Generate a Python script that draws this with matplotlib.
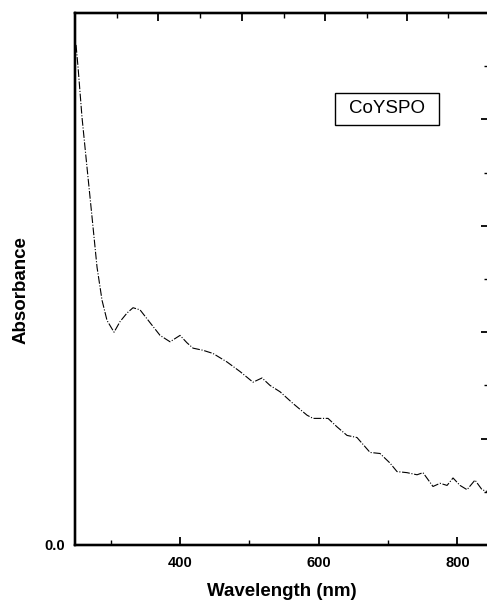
import numpy as np
import matplotlib
matplotlib.use('Agg')
import matplotlib.pyplot as plt
from matplotlib.patches import Rectangle

plt.rcParams['font.family'] = ['Liberation Sans', 'DejaVu Sans']

# absorbance spectrum (arbitrary units, 0 at bottom axis)
wavelength = [250, 252.9, 258.6, 265.8, 273.1, 280.3, 287.5, 294.7, 304.8, 313.5,
              323.5, 332.2, 342.3, 356.7, 371.2, 385.6, 400.0, 410.1, 418.8, 433.2,
              447.6, 467.8, 486.6, 505.3, 518.3, 529.8, 544.3, 563.0, 583.2, 591.9,
              613.5, 626.5, 640.9, 655.3, 674.1, 688.5, 702.9, 713.0, 727.4, 741.9,
              750.5, 764.9, 775.1, 785.2, 793.8, 803.9, 814.0, 825.5, 835.6, 844.2]
absorbance = [4.70, 4.49, 4.02, 3.55, 3.08, 2.61, 2.30, 2.11, 2.00, 2.10,
              2.18, 2.23, 2.21, 2.09, 1.97, 1.91, 1.97, 1.90, 1.85, 1.83,
              1.80, 1.72, 1.63, 1.53, 1.57, 1.50, 1.44, 1.33, 1.22, 1.19,
              1.19, 1.11, 1.03, 1.01, 0.87, 0.86, 0.77, 0.69, 0.68, 0.66,
              0.68, 0.55, 0.58, 0.56, 0.63, 0.56, 0.52, 0.61, 0.52, 0.50]

sample = 'CoYSPO'

fig = plt.figure(figsize=(4.87, 6.07), dpi=100)
ax = fig.add_axes([75 / 487, 62 / 607, 414 / 487, 532 / 607])

ax.plot(wavelength, absorbance, color='black', lw=0.8,
        linestyle=(0, (7, 1.5, 1, 1.5)))

ax.set_xlim(248.5, 845.7)
ax.set_ylim(0, 5)

for side in ['left', 'bottom', 'top', 'right']:
    ax.spines[side].set_linewidth(1.6)

# bottom axis
ax.set_xticks([400, 600, 800])
ax.set_xticks([300, 500, 700], minor=True)
ax.set_xticklabels(['400', '600', '800'], fontweight='bold', fontsize=10.5)
ax.tick_params(axis='x', which='major', direction='in', length=6, width=1.3,
               top=False, pad=8)
ax.tick_params(axis='x', which='minor', direction='in', length=3.5, width=1.0,
               top=False)

# left axis only shows 0.0, ticks on the right
ax.set_yticks([0])
ax.set_yticklabels(['0.0'], fontweight='bold', fontsize=10.5)
ax.tick_params(axis='y', which='major', length=0, pad=7)

rax = ax.twinx()
rax.set_ylim(0, 5)
rax.set_yticks([1, 2, 3, 4])
rax.set_yticks([0.5, 1.5, 2.5, 3.5, 4.5], minor=True)
rax.set_yticklabels([])
rax.tick_params(axis='y', which='major', direction='in', length=6, width=1.3)
rax.tick_params(axis='y', which='minor', direction='in', length=3.5, width=1.0)

# top axis has its own tick spacing on the scan
tax = ax.twiny()
tax.set_xlim(ax.get_xlim())
tax.set_xticks([368, 489, 609, 727])
tax.set_xticks([309, 429, 550, 669, 787], minor=True)
tax.set_xticklabels([])
tax.tick_params(axis='x', which='major', direction='in', length=6, width=1.3)
tax.tick_params(axis='x', which='minor', direction='in', length=3.5, width=1.0)
for a in (rax, tax):
    for side in a.spines:
        a.spines[side].set_linewidth(1.6)

ax.set_xlabel('Wavelength (nm)', fontsize=13.5, fontweight='bold')
ax.set_ylabel('Absorbance', fontsize=13.5, fontweight='bold')
ax.xaxis.set_label_coords(0.5, -0.072)
ax.yaxis.set_label_coords(-0.11, 0.48)

# sample label in a wide box
ax.add_patch(Rectangle((0.628, 0.789), 0.251, 0.061, transform=ax.transAxes,
                       facecolor='white', edgecolor='black', lw=1.0, zorder=3))
ax.text(0.754, 0.820, sample, transform=ax.transAxes, fontsize=13.5,
        ha='center', va='center', zorder=4)

fig.savefig('out.png', dpi=100)
